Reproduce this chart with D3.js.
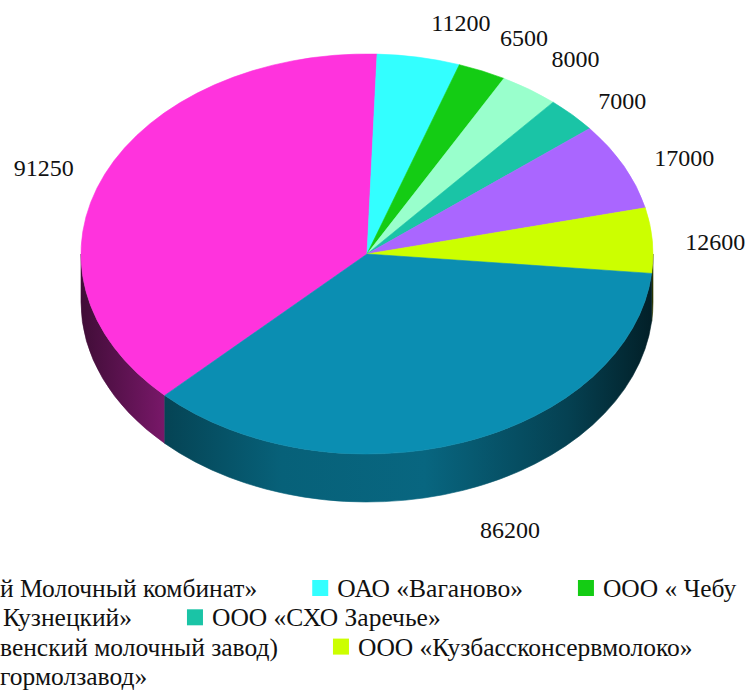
<!DOCTYPE html>
<html>
<head>
<meta charset="utf-8">
<script src="https://cdn.jsdelivr.net/npm/d3@7"></script>
<style>
  html, body { margin: 0; padding: 0; background: #fff; overflow: hidden; }
  svg { display: block; }
</style>
</head>
<body>
<svg id="chart" width="749" height="696"></svg>
<script>
// Producers (legend text as printed) and their volumes
const legendLabels = [
  "й Молочный комбинат»",
  "ОАО «Ваганово»",
  "ООО « Чебу",
  "Кузнецкий»",
  "ООО «СХО Заречье»",
  "венский молочный завод)",
  "ООО «Кузбассконсервмолоко»",
  "гормолзавод»"
];
const values = [91250, 11200, 6500, 8000, 7000, 17000, 12600, 86200];
const colors = ["#ff33dd", "#33ffff", "#14cc14", "#99ffcc", "#1ac4a6", "#aa66ff", "#ccff00", "#0b8eb2"];
// Legend wraps into these rows (indices into the arrays above)
const legendRows = [[0, 1, 2], [3, 4], [5, 6], [7]];

const W = 749, H = 696;
const cx = 367, cy = 254, rx = 286, ry = 200, depth = 48;
const k = ry / rx;
const firstSliceDeg = 225;
const serif = '"Liberation Serif"';

const svg = d3.select("#chart");
svg.append("rect").attr("width", W).attr("height", H).attr("fill", "#fff");
const defs = svg.append("defs");

const pie = d3.pie().sort(null).value(d => d)
  .startAngle(firstSliceDeg * Math.PI / 180)
  .endAngle((firstSliceDeg + 360) * Math.PI / 180);
const arcs = pie(values);

// The disc is drawn as a circle of radius rx squashed vertically
const disc = svg.append("g").attr("transform", `translate(${cx},${cy}) scale(1,${k})`);
const D = depth / k;

// Horizontal shading across the front wall
const shade = d3.scaleLinear()
  .domain([0, 0.15, 0.35, 0.6, 0.85, 1])
  .range([0.25, 0.48, 0.68, 0.72, 0.46, 0.22]);

function wallPath(s, e) {
  const p = d3.path();
  const a0 = s - Math.PI / 2, a1 = e - Math.PI / 2;
  p.moveTo(rx * Math.cos(a0), rx * Math.sin(a0));
  p.arc(0, 0, rx, a0, a1, false);
  p.lineTo(rx * Math.cos(a1), rx * Math.sin(a1) + D);
  p.arc(0, D, rx, a1, a0, true);
  p.closePath();
  return p.toString();
}

const walls = disc.append("g");
arcs.forEach((a, i) => {
  const base = d3.rgb(colors[i]);
  const gid = "wall" + i;
  const grad = defs.append("linearGradient").attr("id", gid)
    .attr("gradientUnits", "userSpaceOnUse")
    .attr("x1", -rx).attr("x2", rx).attr("y1", 0).attr("y2", 0);
  shade.domain().forEach(o => {
    const m = shade(o);
    grad.append("stop").attr("offset", o)
      .attr("stop-color", d3.rgb(base.r * m, base.g * m, base.b * m).formatHex());
  });
  // front half of the rim: from 90° to 270° (any full turn)
  for (let n = 0; n < 3; n++) {
    const lo = Math.PI / 2 + n * 2 * Math.PI, hi = 3 * Math.PI / 2 + n * 2 * Math.PI;
    const s = Math.max(a.startAngle, lo), e = Math.min(a.endAngle, hi);
    if (e > s) {
      walls.append("path").attr("d", wallPath(s, e))
        .attr("fill", `url(#${gid})`)
        .attr("stroke", `url(#${gid})`).attr("stroke-width", 0.6)
        .attr("vector-effect", "non-scaling-stroke");
    }
  }
});

// Top face
const arcGen = d3.arc().innerRadius(0).outerRadius(rx);
disc.append("g").selectAll("path").data(arcs).join("path")
  .attr("d", arcGen)
  .attr("fill", (d, i) => colors[i])
  .attr("stroke", (d, i) => colors[i])
  .attr("stroke-width", 0.6)
  .attr("vector-effect", "non-scaling-stroke");

// Value labels outside the disc
const clamp = (v, a, b) => Math.max(a, Math.min(b, v));
const labels = svg.append("g").attr("fill", "#111");
arcs.forEach((a, i) => {
  const mid = (a.startAngle + a.endAngle) / 2;
  const sn = Math.sin(mid), cs = Math.cos(mid);
  const t = labels.append("text").attr("text-anchor", "middle").attr("dy", "0.35em")
    .style("font-family", serif).style("font-size", "24px")
    .text(String(a.data));
  const w = t.node().getComputedTextLength();
  const px = cx + (rx + 25) * sn;
  const py = cy - (ry + 25) * cs + depth * clamp(-cs * 3, 0, 1);
  const sx = Math.sign(sn) * clamp(Math.abs(sn) / 0.15, 0, 1);
  const sy = Math.sign(cs) * clamp((Math.abs(cs) - 0.72) / 0.08, 0, 1);
  t.attr("x", px + sx * (w / 2 + 8)).attr("y", py + 3 - 13 * sy);
});

// Legend
const legend = svg.append("g").attr("fill", "#111");
const rowTop = 588, rowStep = 29.3, sq = 16, textGap = 25, itemGap = 55;
legendRows.forEach((row, r) => {
  const y = rowTop + r * rowStep;
  let textEnd = null;
  row.forEach((idx, j) => {
    const sx = j === 0 ? -textGap + (r === 1 ? 3 : 0) : textEnd + itemGap;
    legend.append("rect").attr("x", sx).attr("y", y - sq / 2)
      .attr("width", sq).attr("height", sq).attr("fill", colors[idx]);
    const t = legend.append("text").attr("x", sx + textGap).attr("y", y).attr("dy", "0.35em")
      .style("font-family", serif).style("font-size", "25.5px")
      .text(legendLabels[idx]);
    textEnd = sx + textGap + t.node().getComputedTextLength();
  });
});
</script>
</body>
</html>
